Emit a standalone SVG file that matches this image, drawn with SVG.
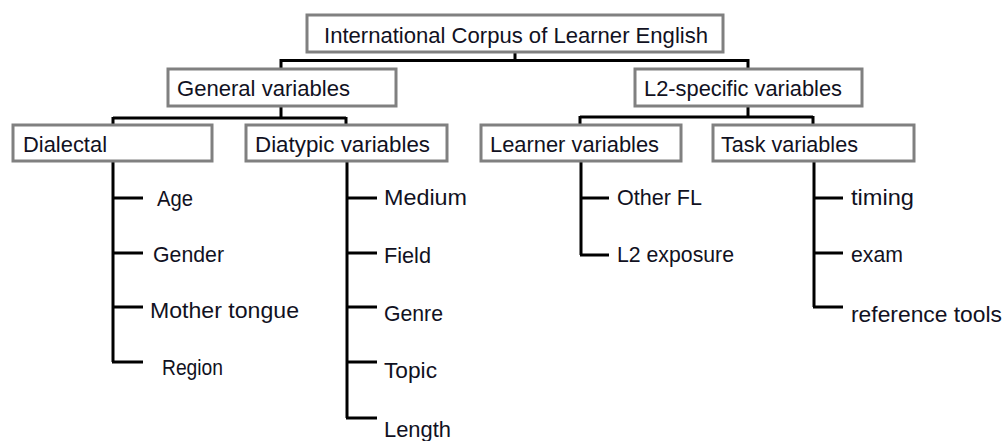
<svg xmlns="http://www.w3.org/2000/svg" width="1005" height="441" viewBox="0 0 1005 441">
<style>
.box{fill:#fff;stroke:#808080;stroke-width:3}
.t{font-family:"Liberation Sans",Arial,sans-serif;font-size:22px;fill:#111122}
.c{fill:none;stroke:#000;stroke-width:3}
</style>
<rect width="1005" height="441" fill="#fff"/>
<g id="connectors">
<path class="c" d="M515 52V60M279.5 60.5H749.5M281 60V69M748 60V69"/>
<path class="c" d="M281 106V118M113 118H346M113 117V125M346 117V125"/>
<path class="c" d="M748 106V117M580 117H813M580 116V125M813 116V125"/>
<path class="c" d="M113 161V362M112 198H143M112 253H143M112 307H143M112 362H143"/>
<path class="c" d="M347 161V418M346 198H377M346 253H377M346 307H377M346 362H377M346 418H377"/>
<path class="c" d="M581 161V255M580 198H609M580 255H609"/>
<path class="c" d="M814 161V307M813 198H843M813 253H843M813 307H843"/>
</g>
<g id="root"><rect class="box" x="307" y="15" width="416" height="37"/><text class="t" x="324" y="43" textLength="384" lengthAdjust="spacingAndGlyphs">International Corpus of Learner English</text></g>
<g id="general"><rect class="box" x="168" y="69" width="228" height="37"/><text class="t" x="177" y="96" textLength="173" lengthAdjust="spacingAndGlyphs">General variables</text></g>
<g id="l2specific"><rect class="box" x="635" y="69" width="227" height="37"/><text class="t" x="644" y="96" textLength="198" lengthAdjust="spacingAndGlyphs">L2-specific variables</text></g>
<g id="dialectal"><rect class="box" x="13" y="125" width="199" height="36"/><text class="t" x="23" y="152" textLength="84" lengthAdjust="spacingAndGlyphs">Dialectal</text></g>
<g id="diatypic"><rect class="box" x="246" y="125" width="201" height="36"/><text class="t" x="255" y="152" textLength="175" lengthAdjust="spacingAndGlyphs">Diatypic variables</text></g>
<g id="learner"><rect class="box" x="481" y="125" width="200" height="36"/><text class="t" x="490" y="152" textLength="169" lengthAdjust="spacingAndGlyphs">Learner variables</text></g>
<g id="task"><rect class="box" x="713" y="125" width="201" height="36"/><text class="t" x="721" y="152" textLength="137" lengthAdjust="spacingAndGlyphs">Task variables</text></g>
<g id="age"><text class="t" x="157" y="206" textLength="36" lengthAdjust="spacingAndGlyphs">Age</text></g>
<g id="gender"><text class="t" x="153" y="262" textLength="71" lengthAdjust="spacingAndGlyphs">Gender</text></g>
<g id="mothertongue"><text class="t" x="150" y="318" textLength="149" lengthAdjust="spacingAndGlyphs">Mother tongue</text></g>
<g id="region"><text class="t" x="162" y="375" textLength="61" lengthAdjust="spacingAndGlyphs">Region</text></g>
<g id="medium"><text class="t" x="384" y="205" textLength="83" lengthAdjust="spacingAndGlyphs">Medium</text></g>
<g id="field"><text class="t" x="384" y="263" textLength="47" lengthAdjust="spacingAndGlyphs">Field</text></g>
<g id="genre"><text class="t" x="384" y="321" textLength="59" lengthAdjust="spacingAndGlyphs">Genre</text></g>
<g id="topic"><text class="t" x="384" y="378" textLength="53" lengthAdjust="spacingAndGlyphs">Topic</text></g>
<g id="length"><text class="t" x="384" y="437" textLength="67" lengthAdjust="spacingAndGlyphs">Length</text></g>
<g id="otherfl"><text class="t" x="617" y="205" textLength="85" lengthAdjust="spacingAndGlyphs">Other FL</text></g>
<g id="l2exposure"><text class="t" x="617" y="262" textLength="117" lengthAdjust="spacingAndGlyphs">L2 exposure</text></g>
<g id="timing"><text class="t" x="851" y="205" textLength="63" lengthAdjust="spacingAndGlyphs">timing</text></g>
<g id="exam"><text class="t" x="851" y="262" textLength="52" lengthAdjust="spacingAndGlyphs">exam</text></g>
<g id="referencetools"><text class="t" x="851" y="322" textLength="151" lengthAdjust="spacingAndGlyphs">reference tools</text></g>
</svg>
